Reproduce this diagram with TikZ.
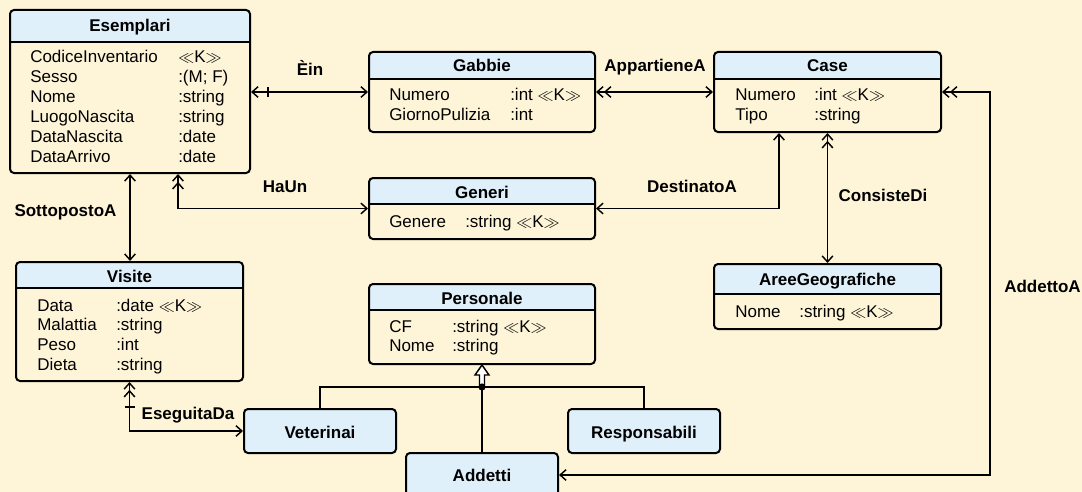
\documentclass[tikz,border=0pt]{standalone}
\usepackage{fontspec}
\setmainfont{Liberation Sans}
\usetikzlibrary{arrows.meta,fit,calc}
\definecolor{bg}{HTML}{FEF5D8}
\definecolor{hd}{HTML}{E0F0FB}
\newcommand{\fs}{\fontsize{12.75}{15}\selectfont}
\newcommand{\KK}{$\ll$K$\gg$}
\tikzset{
  >={Straight Barb[length=4.5pt,width=8pt]},
  box/.style={draw, line width=1.5pt, rounded corners=3pt, fill=bg, inner sep=0pt},
  hdr/.style={path picture={
      \fill[hd] (path picture bounding box.north west) rectangle ([yshift=-#1*0.75pt]path picture bounding box.north east);
      \draw[line width=1.5pt] ([yshift=-#1*0.75pt]path picture bounding box.north west) -- ([yshift=-#1*0.75pt]path picture bounding box.north east);}},
  sub/.style={box, fill=hd},
  ttl/.style={font=\fs\bfseries, anchor=base, inner sep=0pt},
  att/.style={font=\fs, anchor=base west, inner sep=0pt},
  lbl/.style={font=\fs\bfseries, anchor=base, inner sep=0pt},
  conn/.style={line width=1.1pt},
  genl/.style={line width=1.1pt},
}
\newcommand{\attrs}[5]{%
  \foreach \n/\t [count=\i] in {#5} {
    \node[att] (#1n\i) at (#2,{#4+19.8*(\i-1)}) {\n};
    \node[att] (#1t\i) at (#3,{#4+19.8*(\i-1)}) {\t};
  }}
\begin{document}
\fs
\begin{tikzpicture}[x=0.75pt,y=-0.75pt]
\useasboundingbox (0,0) rectangle (1082,492);
\fill[bg] (0,0) rectangle (1082,492);

% classes
\node[box, hdr=32, fit={(10,10)(250,173)}] (esem) {};
\node[ttl] (esemT) at (130,32) {Esemplari};
\attrs{es}{30}{178}{63}{CodiceInventario/\KK, Sesso/:(M; F), Nome/:string, LuogoNascita/:string, DataNascita/:date, DataArrivo/:date}

\node[box, hdr=27, fit={(369,52)(595,132)}] (gab) {};
\node[ttl] (gabT) at (482,72) {Gabbie};
\attrs{ga}{389}{510}{101}{Numero/:int \KK, GiornoPulizia/:int}

\node[box, hdr=27, fit={(714,52)(941,132)}] (case) {};
\node[ttl] (caseT) at (827.5,72) {Case};
\attrs{ca}{735}{814}{101}{Numero/:int \KK, Tipo/:string}

\node[box, hdr=26, fit={(369,178)(595,239)}] (gen) {};
\node[ttl] (genT) at (482,198) {Generi};
\attrs{ge}{389}{465}{227}{Genere/:string \KK}

\node[box, hdr=26, fit={(369,284)(595,364)}] (pers) {};
\node[ttl] (persT) at (482,304) {Personale};
\attrs{pe}{389}{452}{332}{CF/:string \KK, Nome/:string}

\node[box, hdr=26, fit={(16,262)(243,381)}] (vis) {};
\node[ttl] (visT) at (129.5,282) {Visite};
\attrs{vi}{37}{116}{311}{Data/:date \KK, Malattia/:string, Peso/:int, Dieta/:string}

\node[box, hdr=30, fit={(714,264)(941,329)}] (aree) {};
\node[ttl] (areeT) at (827.5,285) {AreeGeografiche};
\attrs{ar}{735}{799}{317}{Nome/:string \KK}

\node[sub, fit={(244,409)(396,453)}] (vet) {};
\node[ttl] (vetT) at (320,438) {Veterinai};
\node[sub, fit={(568,409)(720,453)}] (res) {};
\node[ttl] (resT) at (644,438) {Responsabili};
\node[sub, fit={(406,453)(558,497)}] (add) {};
\node[ttl] (addT) at (482,481) {Addetti};

% associations
\draw[conn, <->] ($(esem.north east)+(0,83)$) -- ($(gab.north west)+(0,41)$);
\draw[conn] ($(esem.north east)+(17,78)$) -- ++(0,10);
\node[lbl] (lEin) at (310,75) {Èin};
\draw[conn, <<->] ($(gab.north east)+(0,41)$) -- ($(case.north west)+(0,41)$);
\node[lbl] (lApp) at (655,72) {AppartieneA};
\draw[conn, <<->] ($(case.north east)+(0,41)$) -| ($(add.east)+(431,0)$) -- (add.east);
\node[lbl, anchor=base west] (lAdd) at (1004,292) {AddettoA};
\draw[conn, <->] ($(case.south)+(-48.5,0)$) |- (gen.east);
\node[lbl] (lDest) at (692,192) {DestinatoA};
\draw[conn, <<->] (case.south) -- (aree.north);
\node[lbl] (lCons) at (883,201) {ConsisteDi};
\draw[conn, <<->] ($(esem.south)+(48,0)$) |- (gen.west);
\node[lbl] (lHa) at (285,192) {HaUn};
\draw[conn, <->] (esem.south) -- (esem.south |- vis.north);
\node[lbl] (lSot) at (65.5,216) {SottopostoA};
\draw[conn, <<->] (vis.south) |- (vet.west);
\draw[conn] ($(vis.south)+(-5,25)$) -- ++(10,0);
\node[lbl] (lEse) at (188,419) {EseguitaDa};

% generalization
\coordinate (gdot) at ($(pers.south)+(0,22)$);
\draw[genl] (vet.north) |- (gdot) -| (res.north);
\draw[genl] (add.north) -- (gdot);
\draw[genl, fill=white] (pers.south) -- ++(7,10) -- ++(-4.5,0) -- ++(0,12) -- ++(-5,0) -- ++(0,-12) -- ++(-4.5,0) -- cycle;
\fill (gdot) circle (2.7pt);
\end{tikzpicture}
\end{document}
